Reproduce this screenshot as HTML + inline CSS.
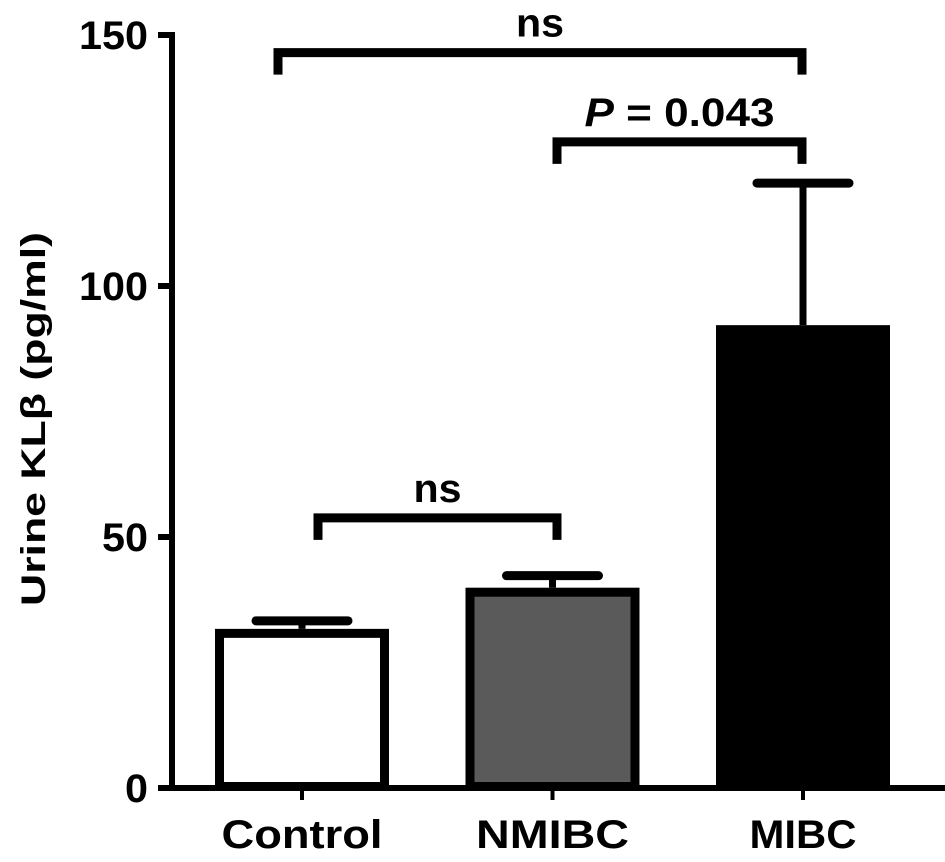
<!DOCTYPE html>
<html><head><meta charset="utf-8">
<style>
html,body{margin:0;padding:0;background:#fff;}
svg{display:block;font-family:"Liberation Sans",Arial,sans-serif;font-weight:bold;}
</style></head>
<body>
<svg id="chart" width="945" height="862" viewBox="0 0 945 862" xmlns="http://www.w3.org/2000/svg">
<g id="axes"></g>
<g id="bars"></g>
<g id="sig"></g>
</svg>
<script>
const categories = ["Control", "NMIBC", "MIBC"];
const means = [31.7, 39.9, 92.2];
const errors = [1.6, 2.4, 28.3];
const fills = ["#ffffff", "#5a5a5a", "#000000"];
const yTicks = [0, 50, 100, 150];
const brackets = [
  {from: 0, to: 2, level: 146.5, label: "ns"},
  {from: 1, to: 2, level: 128.7, label: "P = 0.043"},
  {from: 0, to: 1, level: 53.8, label: "ns"}
];

const NS = "http://www.w3.org/2000/svg";
const y0 = 788, yTop = 35;
function y(v){ return y0 - (v/150)*(y0-yTop); }
const centers0 = 302, step = 250.5;
function x(i){ return centers0 + i*step; }
const barW = 174;

function mk(tag, attrs, parent){
  const el = document.createElementNS(NS, tag);
  for (const k in attrs) el.setAttribute(k, attrs[k]);
  parent.appendChild(el);
  return el;
}
const axes = document.getElementById("axes");
const bars = document.getElementById("bars");
const sig = document.getElementById("sig");

let ya = mk("line", {x1:172, y1:yTop-3, x2:172, y2:y0+2, stroke:"#000","stroke-width":6}, axes);


let xa = mk("line", {x1:158, y1:y0, x2:945, y2:y0, stroke:"#000","stroke-width":6}, axes);


yTicks.forEach(t => {
  let tk = mk("line", {x1:158, y1:y(t), x2:172, y2:y(t), stroke:"#000","stroke-width":6}, axes);
  
  
  const s = String(t);
  let lb = mk("text", {x:148, y:y(t)+14, "text-anchor":"end", "font-size":40, textLength:23*s.length, lengthAdjust:"spacingAndGlyphs"}, axes);
  lb.textContent = s;
  
  
});
let yt = mk("text", {x:0, y:0, "text-anchor":"middle", "font-size":34, textLength:374, lengthAdjust:"spacingAndGlyphs", transform:"translate(45,419) rotate(-90)"}, axes);
yt.textContent = "Urine KL\u03B2 (pg/ml)";



const labelW = [161, 153, 107];
categories.forEach((c, i) => {
  const cx = x(i);
  let tk = mk("line", {x1:cx, y1:y0, x2:cx, y2:y0+12, stroke:"#000","stroke-width":4}, axes);
  
  
  let lb = mk("text", {x:cx, y:848, "text-anchor":"middle", "font-size":40, textLength:labelW[i], lengthAdjust:"spacingAndGlyphs"}, axes);
  lb.textContent = c;
  
  

  const top = y(means[i]);
  const et = y(means[i] + errors[i]);
  let el = mk("line", {x1:cx, y1:et, x2:cx, y2:top, stroke:"#000","stroke-width":7}, bars);
  
  
  let cap = mk("line", {x1:cx-46, y1:et, x2:cx+46, y2:et, stroke:"#000","stroke-width":9,"stroke-linecap":"round"}, bars);
  
  
  let r = mk("rect", {x:cx-barW/2+4.5, y:top+4.5, width:barW-9, height:(y0-top)-6, fill:fills[i], stroke:"#000","stroke-width":9}, bars);
  
  
});

const sigW = {"ns": 48, "P = 0.043": 190};
brackets.forEach((b, k) => {
  const yy = y(b.level);
  const xa1 = b.from===0 && b.to===2 ? 278 : (b.from===0 ? 318 : 557);
  const xa2 = b.to===2 ? 802 : 557;
  let p = mk("path", {d:`M${xa1},${yy+22} V${yy} H${xa2} V${yy+22}`, fill:"none", stroke:"#000","stroke-width":9}, sig);
  
  
  let t = mk("text", {x:(xa1+xa2)/2, y:yy-16, "text-anchor":"middle", "font-size":40, textLength:sigW[b.label], lengthAdjust:"spacingAndGlyphs"}, sig);
  if (b.label.startsWith("P")) {
    const ts = document.createElementNS(NS, "tspan");
    ts.setAttribute("font-style", "italic");
    ts.textContent = "P";
    t.appendChild(ts);
    t.appendChild(document.createTextNode(b.label.slice(1)));
  } else {
    t.textContent = b.label;
  }
  
  
});
</script>
</body></html>
